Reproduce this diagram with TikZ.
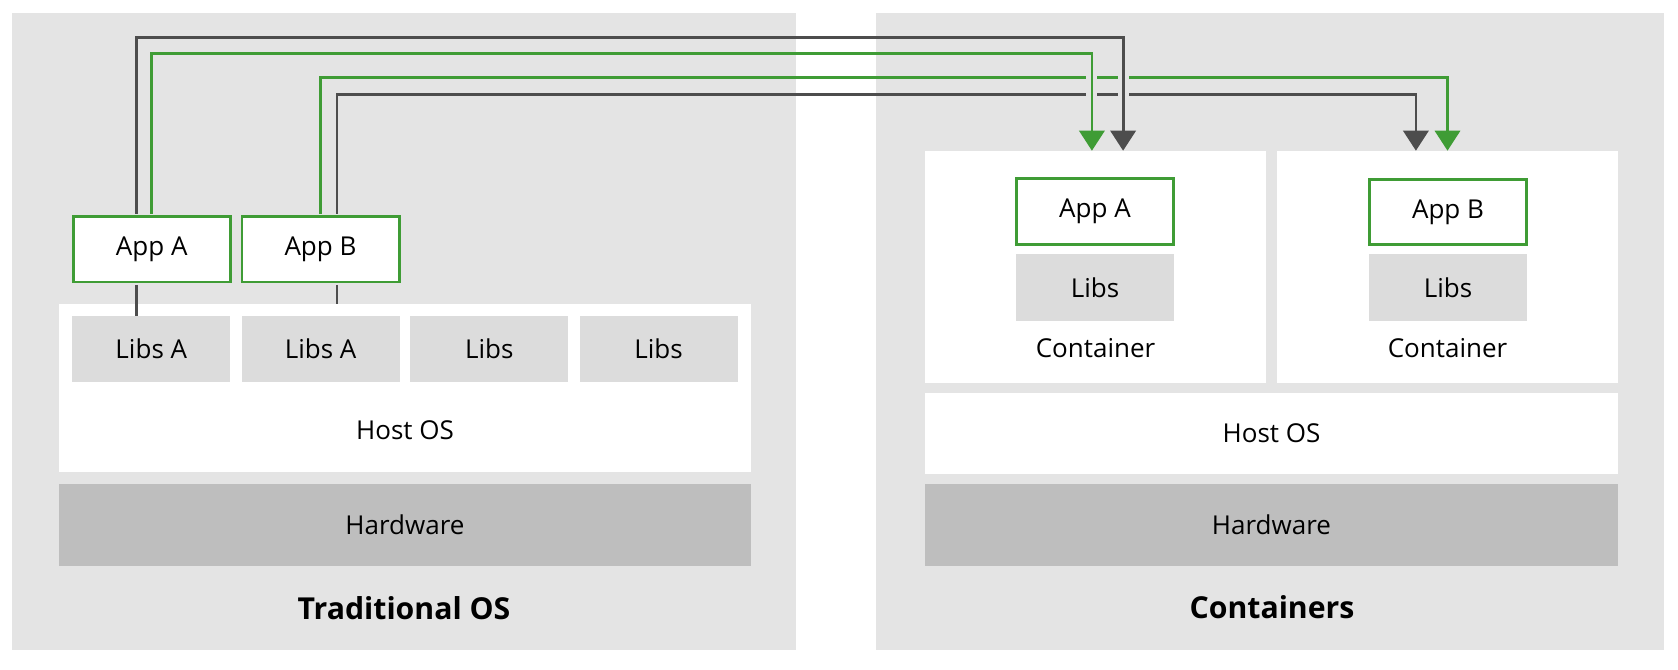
\documentclass[tikz,border=0pt]{standalone}
\usepackage{fontspec}
\setmainfont{Open Sans}
\usetikzlibrary{arrows.meta}

\definecolor{panelgray}{HTML}{E4E4E4}
\definecolor{libgray}{HTML}{DCDCDC}
\definecolor{hwgray}{HTML}{BEBEBE}
\definecolor{appgreen}{HTML}{3F9C35}
\definecolor{wiregray}{HTML}{4D4D4D}

\tikzset{
  panel/.style={fill=panelgray},
  appbox/.style={draw=appgreen, line width=0.7mm, fill=white, inner sep=0pt, minimum width=39.3mm, minimum height=16.4mm},
  libbox/.style={fill=libgray, inner sep=0pt, minimum width=39.5mm, minimum height=16.6mm},
  hostbox/.style={fill=white, inner sep=0pt},
  hwbox/.style={fill=hwgray, inner sep=0pt},
  greenwire/.style={draw=appgreen, line width=0.7mm, shorten <=0.35mm},
  darkwire/.style={draw=wiregray, line width=0.7mm, shorten <=0.35mm},
  wirearrow/.style={-{Triangle[width=6.3mm,length=5mm]}},
  bridge/.style={draw=panelgray, line width=2.75mm, line cap=rect},
  paneltitle/.style={font=\fontsize{21.5}{26}\selectfont\bfseries},
}

\begin{document}
\begin{tikzpicture}[x=2.5mm,y=-2.5mm,font=\fontsize{18.5}{22}\selectfont]
\useasboundingbox (0,0) rectangle (167.8,67);
\fill[panel] (1.2,1.3) rectangle (79.6,65);
\fill[panel] (87.6,1.3) rectangle (166.4,65);
% traditional os
\node[hostbox, minimum width=173mm, minimum height=42mm] (hostl) at (40.5,38.8) {};
\node (hostlt) at (40.5,43.0) {Host OS};
\node[libbox] (libsl1) at (15.13,34.9) {Libs A};
\node[libbox] (libsl2) at (32.06,34.9) {Libs A};
\node[libbox] (libsl3) at (48.93,34.9) {Libs};
\node[libbox] (libsl4) at (65.85,34.9) {Libs};
\node[hwbox, minimum width=173mm, minimum height=20.5mm] (hwl) at (40.5,52.5) {Hardware};
\node[appbox] (appAl) at (15.17,24.92) {App A};
\node[appbox] (appBl) at (32.05,24.92) {App B};
\node[paneltitle] (titlel) at (40.4,60.8) {Traditional OS};
% containers
\node[hostbox, minimum width=85.25mm, minimum height=58mm] (contA) at (109.55,26.7) {};
\node (contAt) at (109.55,34.83) {Container};
\node[hostbox, minimum width=85.25mm, minimum height=58mm] (contB) at (144.75,26.7) {};
\node (contBt) at (144.75,34.83) {Container};
\node[appbox] (appAr) at (109.5,21.17) {App A};
\node[libbox] (libsr1) at (109.5,28.75) {Libs};
\node[appbox] (appBr) at (144.8,21.2) {App B};
\node[libbox] (libsr2) at (144.8,28.75) {Libs};
\node[hostbox, minimum width=173.25mm, minimum height=20.25mm] (hostr) at (127.15,43.35) {Host OS};
\node[hwbox, minimum width=173.25mm, minimum height=20.5mm] (hwr) at (127.15,52.5) {Hardware};
\node[paneltitle] (titler) at (127.2,60.75) {Containers};
% routing levels and wire ends
\coordinate (r1) at (0,3.75);
\coordinate (r2) at (0,5.37);
\coordinate (r3) at (0,7.73);
\coordinate (r4) at (0,9.47);
\coordinate (outA1) at ([xshift=-3.75mm]appAl.north);
\coordinate (outA2) at (appAl.north);
\coordinate (outB1) at (appBl.north);
\coordinate (outB2) at ([xshift=4.1mm]appBl.north);
\coordinate (inA1) at ([xshift=6.9mm]contA.north);
\coordinate (inA2) at ([xshift=-0.9mm]contA.north);
\coordinate (inB1) at (contB.north);
\coordinate (inB2) at ([xshift=-7.9mm]contB.north);
% app b wires run under the app a wires
\draw[greenwire, wirearrow] (outB1) |- (inB1 |- r3) -- (inB1);
\draw[darkwire, wirearrow] (outB2) |- (inB2 |- r4) -- (inB2);
\draw[bridge] (inA2 |- r3) -- (inA2 |- r4);
\draw[bridge] (inA1 |- r3) -- (inA1 |- r4);
\draw[greenwire, wirearrow] (outA2) |- (inA2 |- r2) -- (inA2);
\draw[darkwire, wirearrow] (outA1) |- (inA1 |- r1) -- (inA1);
\draw[darkwire] (outA1 |- appAl.south) -- (outA1 |- libsl1.north);
\draw[darkwire] (outB2 |- appBl.south) -- (outB2 |- hostl.north);
\end{tikzpicture}
\end{document}
